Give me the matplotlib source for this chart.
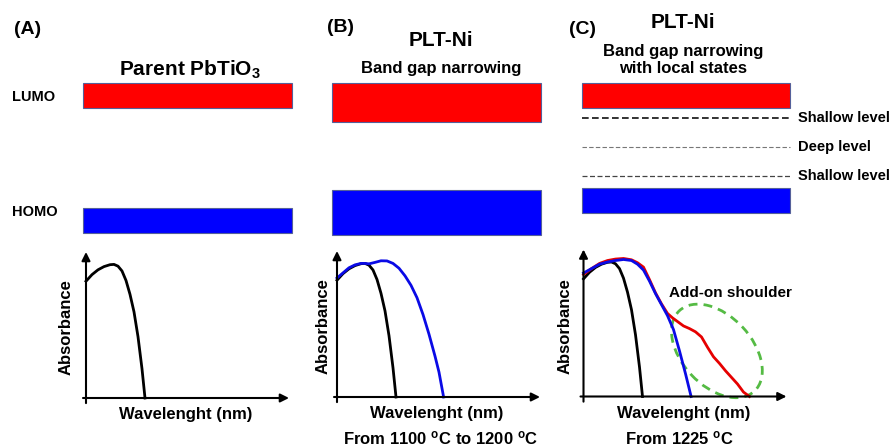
import matplotlib
matplotlib.use("Agg")
import matplotlib.pyplot as plt
from matplotlib.patches import Ellipse
from matplotlib.transforms import ScaledTranslation

plt.rcParams['font.family'] = ['Liberation Sans', 'DejaVu Sans']
plt.rcParams['font.weight'] = 'bold'
plt.rcParams['mathtext.fontset'] = 'custom'
plt.rcParams['mathtext.rm'] = 'Liberation Sans:bold'
plt.rcParams['mathtext.it'] = 'Liberation Sans:bold'
plt.rcParams['mathtext.bf'] = 'Liberation Sans:bold'
plt.rcParams['mathtext.default'] = 'rm'

# ---------------- data ----------------
panel_tags = ["(A)", "(B)", "(C)"]
panel_titles = ["Parent PbTiO$_3$", "PLT-Ni", "PLT-Ni"]
panel_subtitles = ["", "Band gap narrowing", "Band gap narrowing\nwith local states"]
panel_conditions = ["", "From 1100 $^{o}$C to 1200 $^{o}$C", "From 1225 $^{o}$C"]

# band energies (arbitrary units, 0 = bottom of diagram, 10 = top)
lumo_bottom = [8.25, 7.40, 8.25]
lumo_top = [9.80, 9.80, 9.80]
homo_bottom = [0.45, 0.30, 1.70]
homo_top = [2.00, 3.10, 3.25]
local_levels = [7.60, 5.80, 4.00]
local_names = ["Shallow level", "Deep level", "Shallow level"]

# absorbance curves (arbitrary wavelength units)
pto_x = [0, 3, 6, 9, 12, 14, 16, 18, 20, 22, 24, 26, 28, 29.5]
pto_y = [0.80, 0.845, 0.878, 0.90, 0.913, 0.915, 0.903, 0.87, 0.805, 0.71, 0.59, 0.42, 0.20, 0.0]

pltni_b_x = [0, 3, 6, 9, 12, 14, 16, 19, 22, 25, 28, 31, 34, 37, 40, 43, 46, 49, 51, 53.3]
pltni_b_y = [0.815, 0.85, 0.885, 0.905, 0.915, 0.915, 0.912, 0.922, 0.933, 0.932, 0.915, 0.882,
             0.83, 0.765, 0.68, 0.565, 0.43, 0.28, 0.17, 0.0]

pltni_c_x = [0, 4, 8, 12, 16, 20, 24, 27, 30, 33, 36, 39, 42, 45, 48, 51, 53.8]
pltni_c_y = [0.84, 0.87, 0.90, 0.915, 0.925, 0.932, 0.925, 0.90, 0.86, 0.785, 0.70, 0.625,
             0.55, 0.455, 0.31, 0.155, 0.0]

shoulder_x = [0, 4, 8, 12, 16, 20, 24, 27, 30, 33, 36, 39, 42, 44.5, 47, 50, 53, 56, 59, 62,
              65, 68, 71, 74, 77, 80, 83]
shoulder_y = [0.83, 0.87, 0.905, 0.925, 0.935, 0.939, 0.93, 0.91, 0.88, 0.795, 0.705, 0.63,
              0.565, 0.535, 0.51, 0.48, 0.462, 0.44, 0.405, 0.335, 0.27, 0.225, 0.175, 0.13,
              0.085, 0.03, 0.0]

# ---------------- layout ----------------
W, H = 893, 447
fig = plt.figure(figsize=(W / 100, H / 100), dpi=100)


def rect(l, t, r, b):
    return [l / W, (H - b) / H, (r - l) / W, (b - t) / H]


canvas = fig.add_axes([0, 0, 1, 1])
canvas.set_xlim(0, W)
canvas.set_ylim(H, 0)
canvas.axis('off')

RED = '#ff0000'
BLUE = '#0000ff'
EDGE = '#55609a'

band_px = [(83, 292), (332, 541), (582, 790)]
band_axes = []
for i, (l, r) in enumerate(band_px):
    ax = fig.add_axes(rect(l, 80, r, 240))
    ax.set_xlim(0, 1)
    ax.set_ylim(0, 10)
    ax.axis('off')
    ax.bar([0.5], [lumo_top[i] - lumo_bottom[i]], bottom=[lumo_bottom[i]], width=1.0,
           color=RED, edgecolor=EDGE, linewidth=0.8, clip_on=False)
    ax.bar([0.5], [homo_top[i] - homo_bottom[i]], bottom=[homo_bottom[i]], width=1.0,
           color=BLUE, edgecolor=EDGE, linewidth=0.8, clip_on=False)
    band_axes.append(ax)

# local states in panel C
axc_band = band_axes[2]
lvl_styles = [dict(color='#111111', lw=1.2), dict(color='#777777', lw=0.8),
              dict(color='#444444', lw=0.9)]
for lvl, name, st in zip(local_levels, local_names, lvl_styles):
    axc_band.plot([0, 1], [lvl, lvl], linestyle=(0, (4, 2)), clip_on=False, **st)
    axc_band.text(1.04, lvl, name, transform=axc_band.get_yaxis_transform(),
                  fontsize=10.5, fontweight='bold', ha='left', va='center')

# curve axes: (y-axis x px, x-axis y px, top y px)
curve_geom = [(86, 398, 252), (337, 397, 251), (583.5, 396.5, 249.5)]
curve_axes = []
XL = (-1.5, 101.5)
YL = (-0.035, 1.0)
ylabel_pads = [7, 2.5, 6]
for i, (x0, yb, yt) in enumerate(curve_geom):
    hgt = yb - yt
    ax = fig.add_axes(rect(x0 - 3, yt, x0 - 3 + 206, yb + 0.035 * hgt))
    ax.set_xlim(*XL)
    ax.set_ylim(*YL)
    for s in ax.spines.values():
        s.set_visible(False)
    ax.set_xticks([])
    ax.set_yticks([])
    ax.patch.set_alpha(0)
    ax.annotate('', xy=(XL[1], 0), xytext=(XL[0], 0), annotation_clip=False,
                arrowprops=dict(arrowstyle='-|>,head_length=0.5,head_width=0.25',
                                color='black', lw=1.5, shrinkA=0, shrinkB=0))
    ax.annotate('', xy=(0, YL[1]), xytext=(0, YL[0]), annotation_clip=False,
                arrowprops=dict(arrowstyle='-|>,head_length=0.5,head_width=0.25',
                                color='black', lw=1.5, shrinkA=0, shrinkB=0))
    ax.set_xlabel('Wavelenght (nm)', fontsize=12, fontweight='bold', labelpad=3)
    ax.set_ylabel('Absorbance', fontsize=12, fontweight='bold', labelpad=ylabel_pads[i])
    curve_axes.append(ax)

LW = 2.0
axA, axB, axC = curve_axes
axA.plot(pto_x, pto_y, color='black', lw=LW, clip_on=False)

axB.plot(pto_x, pto_y, color='black', lw=LW, clip_on=False)
axB.plot(pltni_b_x, pltni_b_y, color='#0a0ae6', lw=LW, clip_on=False)

axC.plot(pto_x, pto_y, color='black', lw=LW, clip_on=False)
axC.plot(shoulder_x, shoulder_y, color='#e60000', lw=LW, clip_on=False)
axC.plot(pltni_c_x, pltni_c_y, color='#0a0ae6', lw=LW, clip_on=False)

ell = Ellipse((0, 0), width=1.10, height=0.70, angle=-47, fill=False,
              edgecolor='#55bb44', lw=2.0, linestyle=(0, (3.2, 2.2)),
              transform=fig.dpi_scale_trans + ScaledTranslation(66.7, 0.31, axC.transData),
              clip_on=False)
axC.add_patch(ell)

# ---------------- texts ----------------
tag_pos = [(28, 30), (340, 27), (582, 30)]
for t, (x, y) in zip(panel_tags, tag_pos):
    canvas.text(x, y, t, fontsize=14, fontweight='bold', ha='center', va='center')

canvas.text(190, 70, panel_titles[0], fontsize=15, fontweight='bold', ha='center', va='center')
canvas.text(441, 40, panel_titles[1], fontsize=15, fontweight='bold', ha='center', va='center')
canvas.text(683, 22, panel_titles[2], fontsize=15, fontweight='bold', ha='center', va='center')

canvas.text(441, 68, panel_subtitles[1], fontsize=12, fontweight='bold', ha='center', va='center')
canvas.text(683, 60, panel_subtitles[2], fontsize=12, fontweight='bold', ha='center', va='center',
            linespacing=1.1)

canvas.text(12, 97, "LUMO", fontsize=10.5, fontweight='bold', ha='left', va='center')
canvas.text(12, 212, "HOMO", fontsize=10.5, fontweight='bold', ha='left', va='center')

canvas.text(441, 444, panel_conditions[1], fontsize=12, fontweight='bold', ha='center',
            va='baseline')
canvas.text(679, 444, panel_conditions[2], fontsize=12, fontweight='bold', ha='center',
            va='baseline')

canvas.text(730, 293, "Add-on shoulder", fontsize=11, fontweight='bold', ha='center', va='center')

fig.savefig("out.png", dpi=100)
